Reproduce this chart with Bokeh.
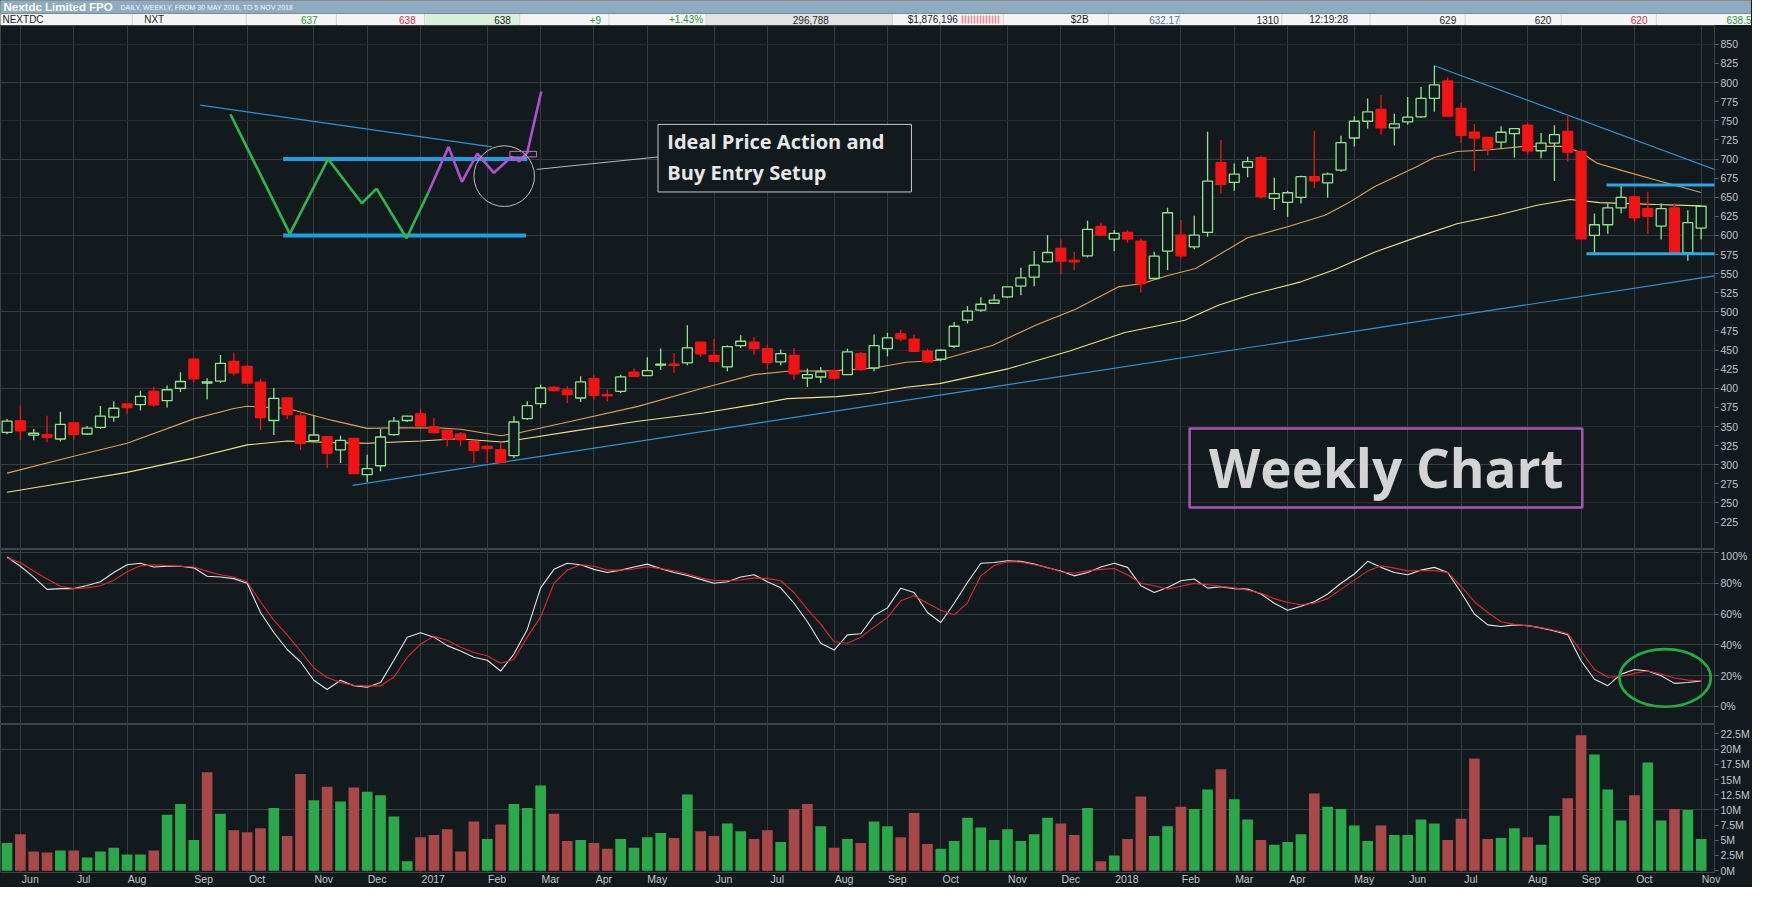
import pandas as pd
from bokeh.plotting import figure
from bokeh.layouts import column
from bokeh.models import Range1d, FixedTicker, Grid, ColumnDataSource
from bokeh.core.properties import value
from bokeh.embed import file_html
from bokeh.resources import INLINE

# ------------------------------------------------------------------ data
start_date = "2016-05-30"
n_weeks = 128

opens = [342.4, 357.5, 338.8, 339.4, 333.7, 354.9, 340.2, 348.9, 362.3, 379.5,
         378.7, 396.0, 383.9, 399.9, 438.3, 406.8, 409.4, 435.3, 428.8, 408.0,
         357.9, 387.3, 364.0, 331.6, 336.8, 319.5, 334.6, 287.0, 298.7, 339.4,
         357.9, 366.6, 349.7, 345.4, 340.2, 330.6, 324.0, 319.6, 311.8, 360.3,
         379.9, 401.3, 397.8, 387.3, 412.7, 391.7, 396.0, 421.0, 416.6, 430.5,
         431.5, 433.2, 460.3, 443.2, 428.0, 455.9, 460.3, 452.0, 434.5, 443.2,
         413.5, 414.8, 422.3, 417.9, 445.4, 426.6, 452.0, 471.2, 464.2, 448.5,
         438.0, 455.0, 489.1, 502.2, 511.3, 519.6, 533.6, 545.4, 565.5, 583.0,
         567.3, 573.4, 611.8, 595.2, 603.9, 592.6, 543.7, 579.5, 600.4, 585.1,
         603.9, 695.2, 669.4, 689.1, 701.7, 648.5, 643.2, 649.8, 676.9, 668.9,
         685.6, 727.5, 749.4, 764.8, 740.7, 748.6, 755.2, 779.3, 802.2, 766.2,
         735.0, 728.3, 722.2, 733.2, 744.2, 710.8, 720.9, 736.3, 709.9, 600.0,
         614.0, 636.0, 650.5, 635.1, 612.3, 636.0, 577.1, 609.6]
highs = [359.7, 377.8, 346.7, 364.0, 369.2, 355.0, 350.6, 377.0, 383.0, 380.0,
         396.8, 402.5, 403.8, 421.0, 439.0, 413.3, 443.5, 447.0, 430.5, 412.4,
         400.3, 387.5, 370.0, 364.0, 337.0, 338.0, 335.0, 313.0, 346.7, 362.3,
         364.0, 373.5, 361.4, 345.5, 342.8, 331.0, 325.3, 328.4, 363.3, 383.0,
         404.8, 402.6, 402.6, 415.7, 417.0, 398.3, 417.9, 425.8, 440.6, 452.0,
         446.3, 482.5, 460.5, 465.0, 456.3, 469.4, 466.8, 457.2, 450.7, 452.8,
         425.8, 427.5, 424.5, 452.0, 447.6, 470.3, 472.5, 476.9, 470.3, 452.0,
         451.0, 486.9, 507.4, 519.2, 523.1, 533.0, 557.6, 579.5, 600.4, 595.2,
         578.6, 619.2, 616.6, 607.0, 607.0, 596.1, 578.6, 636.2, 620.1, 625.8,
         735.8, 724.9, 694.3, 703.1, 704.4, 675.5, 658.5, 678.2, 737.1, 682.5,
         730.6, 756.0, 779.3, 783.7, 759.1, 781.1, 794.3, 822.0, 806.6, 773.6,
         745.9, 728.5, 742.8, 740.0, 747.2, 734.1, 744.2, 757.4, 710.0, 628.6,
         641.7, 665.9, 651.0, 657.1, 641.7, 641.7, 633.0, 638.5]
lows = [339.8, 332.4, 332.0, 329.4, 330.3, 332.9, 339.0, 346.7, 356.2, 366.6,
        370.9, 375.7, 374.8, 395.1, 408.0, 385.2, 406.8, 416.7, 405.9, 345.4,
        338.9, 359.7, 319.5, 330.3, 295.7, 302.2, 288.0, 277.5, 291.4, 338.0,
        356.0, 349.7, 341.0, 323.8, 324.0, 302.0, 302.0, 302.0, 308.7, 359.0,
        374.2, 396.0, 380.8, 382.1, 385.1, 383.0, 393.9, 415.0, 416.0, 424.0,
        420.1, 430.1, 441.0, 435.0, 422.3, 452.8, 444.1, 425.8, 430.1, 411.3,
        401.7, 407.0, 412.6, 417.9, 423.1, 422.3, 441.9, 461.6, 447.6, 433.6,
        435.4, 452.8, 484.7, 500.0, 510.9, 518.3, 521.8, 533.6, 564.6, 548.9,
        554.6, 571.2, 599.1, 579.5, 590.4, 525.3, 542.8, 554.6, 569.9, 582.1,
        598.3, 655.0, 658.5, 676.0, 648.5, 633.2, 624.5, 641.9, 661.6, 649.3,
        683.4, 716.5, 739.8, 731.9, 717.8, 745.0, 753.8, 761.8, 756.0, 720.9,
        684.4, 704.6, 713.4, 702.0, 705.5, 701.1, 671.2, 696.7, 595.0, 576.7,
        602.2, 628.6, 618.4, 602.2, 594.7, 577.0, 567.0, 594.7]
closes = [357.1, 344.5, 341.2, 335.9, 352.7, 339.8, 348.0, 363.6, 373.9, 374.8,
          389.5, 378.2, 398.1, 408.9, 412.4, 408.5, 432.7, 420.2, 406.8, 361.8,
          386.9, 365.7, 328.1, 338.9, 315.2, 332.0, 288.4, 294.8, 336.3, 357.1,
          363.6, 351.0, 341.9, 333.7, 333.0, 318.8, 321.0, 303.0, 355.9, 377.3,
          400.4, 396.9, 391.7, 408.3, 390.8, 390.0, 415.0, 415.7, 423.1, 431.5,
          430.0, 452.8, 445.0, 435.4, 454.6, 461.6, 452.0, 434.1, 445.4, 418.8,
          417.9, 421.4, 413.5, 447.6, 424.4, 455.9, 465.9, 464.6, 448.5, 434.5,
          449.8, 481.2, 500.9, 510.0, 515.3, 532.7, 544.5, 561.1, 577.7, 566.4,
          565.5, 607.9, 600.4, 602.6, 595.2, 537.1, 572.9, 629.7, 573.4, 600.4,
          671.2, 666.8, 680.3, 696.5, 650.7, 654.6, 655.9, 676.9, 671.6, 680.3,
          721.4, 749.4, 761.8, 740.7, 745.9, 754.7, 779.3, 796.9, 756.0, 731.0,
          727.5, 714.3, 735.0, 739.8, 710.8, 720.9, 731.9, 709.0, 595.6, 614.0,
          636.0, 649.7, 623.3, 625.0, 635.1, 578.0, 616.7, 638.2]
volume_m = [4.57, 6.0, 3.14, 2.98, 3.3, 3.3, 2.18, 3.14, 3.78, 2.66,
            2.66, 3.3, 9.2, 10.96, 5.05, 16.2, 9.36, 6.65, 6.33, 6.97,
            10.3, 5.7, 15.9, 11.6, 13.8, 11.4, 13.7, 13.0, 12.4, 8.9,
            1.54, 5.5, 5.85, 6.8, 3.14, 8.1, 5.2, 7.6, 10.96, 10.3,
            14.0, 9.36, 4.9, 5.05, 4.57, 3.6, 5.2, 3.78, 5.5, 6.2,
            5.37, 12.55, 6.5, 5.7, 7.77, 6.5, 5.2, 6.65, 4.73, 10.16,
            10.96, 7.3, 3.78, 5.2, 4.57, 8.1, 7.3, 5.5, 9.5, 4.4,
            3.6, 4.9, 8.7, 7.1, 5.05, 6.8, 4.9, 6.0, 8.7, 7.77,
            5.85, 10.3, 1.54, 2.5, 5.2, 12.2, 5.7, 7.3, 10.5, 10.16,
            13.35, 16.7, 11.75, 8.4, 5.05, 4.26, 4.73, 6.0, 12.7, 10.5,
            10.16, 7.45, 4.9, 7.45, 5.85, 5.85, 8.4, 7.77, 5.05, 8.56,
            18.46, 5.2, 5.37, 6.97, 5.5, 4.26, 9.04, 11.9, 22.3, 19.1,
            13.35, 8.24, 12.4, 17.8, 8.24, 10.16, 10.0, 5.2]

# moving averages (bar index, price)
ma_fast_x = [0, 5, 9, 14, 17, 18, 21, 24.4, 27, 29.4, 32.5, 34, 37, 38.3, 42.3, 47.3,
             52.2, 56, 58.5, 62.2, 65, 67.4, 69.9, 73.9, 77.1, 80.1, 83.3, 85.1, 87.1,
             89.1, 93, 96, 98.8, 100.5, 102.5, 105.7, 107, 108.7, 111.2, 113.7, 116.7,
             118, 119.2, 121.1, 123.6, 127]
ma_fast_y = [289, 311, 328, 360, 373.5, 376.5, 373.5, 358, 347.6, 348.4, 348, 346.5, 338,
             341.5, 356.8, 376.4, 400.4, 417.9, 422.3, 423.1, 426.5, 434, 436.7, 456.3,
             482.5, 503.5, 532.7, 537.1, 548, 556.8, 596.9, 611.3, 626.5, 642, 663.7,
             690.1, 702, 709.9, 712.1, 716.5, 716.5, 708.6, 694.5, 684.8, 672.5, 656.3]
ma_slow_x = [0, 5, 9, 14, 18, 21, 24.4, 27, 31, 33.8, 37.1, 38.3, 42.3, 47.3, 52.2, 56,
             58.5, 62.2, 64.9, 67.4, 69.9, 75.1, 79.6, 83.8, 88.3, 90.8, 93.3, 97, 99.5,
             102.5, 105.7, 108.7, 111.7, 114.7, 117.2, 119.4, 123.6, 127]
ma_slow_y = [264, 278.4, 290, 308.7, 326, 331.1, 329, 328.1, 331.1, 334, 329.7, 332.7,
             343.7, 356.8, 367.7, 378.6, 386.5, 389.1, 393.9, 401.3, 406.1, 425.8, 448.5,
             473, 489.1, 508.7, 522.7, 539.3, 555, 578, 597.8, 615.4, 626.4, 639.5, 647,
             643, 640.4, 638.7]

stoch_k = [97, 91, 84, 76, 76.5, 76.5, 78.5, 81, 87, 92,
           93, 90.5, 91, 91, 90, 84.5, 84, 83, 80, 61,
           48, 37, 29, 17, 11, 17, 13.5, 12.5, 15.5, 30,
           45, 47.8, 45, 39.5, 36, 32, 30, 23, 34, 50,
           77, 89, 93, 92, 89, 87, 88.5, 90.5, 92.4, 89.5,
           87, 85, 82.5, 80, 81, 84, 85.5, 81, 77, 67,
           55, 41, 36.6, 46.5, 47.2, 59, 64, 76.8, 74, 61,
           54.5, 67, 80.5, 93, 93.5, 94.6, 94.2, 92.5, 90, 88,
           84.8, 87, 90.5, 93, 90.3, 78.4, 74, 77.3, 81.6, 82.7,
           76.8, 77.7, 76.5, 76.2, 73, 67, 62.5, 65, 68, 73,
           80, 86, 94.2, 90.3, 87, 85.5, 88.5, 90.3, 87, 74,
           60, 53, 51.9, 53, 52.5, 51, 49, 46.5, 29.7, 17.7,
           13.5, 21, 24, 23, 20, 15, 15.6, 16.5]
stoch_d = [96.3, 93.5, 88, 82.7, 78, 76.5, 77, 78.4, 82, 87.5,
           91.3, 92, 91.5, 91, 90.5, 87.7, 85.5, 84, 81, 68,
           56, 46.5, 36, 25, 18.8, 15.5, 13.8, 13.4, 13.4, 19,
           32, 40.5, 45.5, 43, 38.5, 35, 32.9, 28, 30.5, 45,
           58, 80, 88.5, 92, 91, 88.5, 88.5, 89.2, 90.7, 89.5,
           88.1, 86, 83.5, 81.8, 81.8, 82.1, 83.5, 83, 81.6, 74,
           63, 53.5, 42, 41, 45, 51.5, 57.8, 68.6, 71.9, 67,
           62.5, 59.5, 67.3, 84.8, 91.5, 94, 93.7, 92, 90.3, 87.5,
           86.5, 88, 89, 89.6, 85.5, 80, 78.4, 76.2, 78, 79.9,
           79, 78, 77, 75.5, 73.5, 70, 67.5, 66, 67, 70,
           76, 82, 88, 91.3, 89.8, 88, 88.3, 88.2, 87, 78,
           68, 61, 55, 53.3, 52.3, 51.3, 49.5, 47.4, 36, 24,
           19, 19.5, 21.5, 23, 21, 18.5, 17.1, 16.7]

month_labels = ["Jun", "Jul", "Aug", "Sep", "Oct", "Nov", "Dec",
                "2017", "Feb", "Mar", "Apr", "May", "Jun", "Jul", "Aug", "Sep", "Oct", "Nov", "Dec",
                "2018", "Feb", "Mar", "Apr", "May", "Jun", "Jul", "Aug", "Sep", "Oct", "Nov"]
price_ticks = [225, 250, 275, 300, 325, 350, 375, 400, 425, 450, 475, 500, 525, 550,
               575, 600, 625, 650, 675, 700, 725, 750, 775, 800, 825, 850]
price_grid_major = [300, 400, 500, 600, 700, 800]
price_grid_minor = [250, 350, 450, 550, 650, 750, 850]
stoch_ticks = [0, 20, 40, 60, 80, 100]
stoch_tick_labels = ["0%", "20%", "40%", "60%", "80%", "100%"]
volume_ticks = [0, 2.5, 5, 7.5, 10, 12.5, 15, 17.5, 20, 22.5]
volume_tick_labels = ["0M", "2.5M", "5M", "7.5M", "10M", "12.5M", "15M", "17.5M", "20M", "22.5M"]
volume_grid = [10, 20]

# drawn annotations (bar index, price)
lower_trend_x, lower_trend_y = [25.9, 128.0], [273, 547]
upper_trend_x, upper_trend_y = [107, 128.5], [822, 683]
resistance_x, resistance_y = [119.9, 128.5], [666, 666]
support_x, support_y = [118.4, 128.5], [576, 576]
inset_trend_x, inset_trend_y = [14.48, 36.34], [770.4, 715.9]
inset_res_x, inset_res_y = [20.7, 39.0], [700, 700]
inset_sup_x, inset_sup_y = [20.7, 38.9], [600, 600]
inset_green_x = [16.75, 21.2, 24.07, 26.6, 27.7, 29.95, 31.6]
inset_green_y = [758.6, 602, 700, 642.1, 661.3, 596.4, 656.9]
inset_purple_x = [31.6, 33.1, 34.1, 35.25, 36.5, 37.8, 38.4, 39.0, 40.05]
inset_purple_y = [656.9, 715.9, 670.2, 707.1, 682, 702.7, 696.8, 708.6, 788.3]
callout_lines = ["Ideal Price Action and", "Buy Entry Setup"]
weekly_label = "Weekly Chart"

# header strip
title_text = "Nextdc Limited FPO"
subtitle_text = "DAILY, WEEKLY, FROM 30 MAY 2016, TO 5 NOV 2018"
hdr_left = [("NEXTDC", 2, "#1e1e1e"), ("NXT", 145, "#1e1e1e")]
hdr_right = [("637", 320, "#2f9a3a"), ("638", 419, "#c23a3a"), ("638", 515, "#1e1e1e"),
             ("+9", 606, "#2f9a3a"), ("+1.43%", 709, "#2f9a3a"), ("296,788", 836, "#1e1e1e"),
             ("$1,876,196", 966, "#1e1e1e"), ("$2B", 1098, "#1e1e1e"), ("632.17", 1190, "#56748c"),
             ("1310", 1290, "#1e1e1e"), ("12:19:28", 1360, "#1e1e1e"), ("629", 1469, "#1e1e1e"),
             ("620", 1565, "#1e1e1e"), ("620", 1662, "#c23a3a"), ("638.5", 1767, "#2f9a3a")]
hdr_seps = [133, 248, 339, 428, 524, 614, 712, 900, 1012, 1118, 1190, 1293, 1382, 1478, 1575, 1671]

# ------------------------------------------------------------------ styling
BG = "#121a1d"
V_GRID = "#333c40"
H_MAJOR = "#353e42"
H_MINOR = "#232b2f"
PANEL_LINE = "#3d474b"
AXIS_TEXT = "#c2c6c8"
FONT = "Liberation Sans"
FRAME_W = 1714
RIGHT_W = 37
X_START, X_END = -0.49, 128.0
PX_PER_BAR = FRAME_W / (X_END - X_START)

idx = list(range(n_weeks))
dates = pd.date_range(start_date, periods=n_weeks, freq="7D")
month_idx = [i for i in range(1, n_weeks) if dates[i].month != dates[i - 1].month]
label_pos = [round(g + (1.5 + 5.6 * len(l) / 2) / PX_PER_BAR, 4) for g, l in zip(month_idx, month_labels)]

up = [c >= o for o, c in zip(opens, closes)]
vol_up = [True] + [closes[i] >= closes[i - 1] for i in range(1, n_weeks)]

xr = Range1d(X_START, X_END)


def panel(frame_h, y0, y1, x_axis=False, bottom=0):
    p = figure(frame_width=FRAME_W, frame_height=frame_h, x_range=xr, y_range=Range1d(y0, y1),
               x_axis_location="below" if x_axis else None, y_axis_location="right",
               output_backend="svg", toolbar_location=None,
               min_border_left=0, min_border_top=0, min_border_bottom=bottom,
               min_border_right=RIGHT_W)
    p.background_fill_color = BG
    p.border_fill_color = BG
    p.outline_line_color = PANEL_LINE
    p.xgrid.visible = False
    p.ygrid.visible = False
    ax = p.yaxis[0]
    ax.axis_line_color = None
    ax.major_tick_line_color = "#5b6468"
    ax.major_tick_out = 4
    ax.major_tick_in = 0
    ax.minor_tick_line_color = None
    ax.major_label_text_color = AXIS_TEXT
    ax.major_label_text_font = FONT
    ax.major_label_text_font_size = "10.5px"
    ax.major_label_standoff = 2
    p.add_layout(Grid(dimension=0, ticker=FixedTicker(ticks=month_idx), grid_line_color=V_GRID))
    return p


# ------------------------------------------------------------------ header
HDR_H = 25
hdr = figure(frame_width=FRAME_W + RIGHT_W, frame_height=HDR_H, x_range=Range1d(0, 1767),
             y_range=Range1d(HDR_H, 0), x_axis_location=None, y_axis_location=None,
             output_backend="svg", toolbar_location=None, min_border=0)
hdr.outline_line_color = None
hdr.background_fill_color = "#f3f3f3"
hdr.border_fill_color = "#f3f3f3"
hdr.grid.visible = False
hdr.quad(left=0, right=1767, top=0, bottom=13, fill_color="#8eabc0", line_color=None)
hdr.quad(left=0, right=1767, top=13, bottom=HDR_H, fill_color="#f4f4f4", line_color=None)
hdr.quad(left=429, right=524, top=13.5, bottom=HDR_H, fill_color="#d7f0d7", line_color=None)
hdr.quad(left=712, right=900, top=13.5, bottom=HDR_H, fill_color="#e3e3e3", line_color=None)
hdr.quad(left=969, right=1009, top=15, bottom=23, fill_color="#f8d3d8", line_color=None,
         hatch_pattern="vertical_line", hatch_color="#e7909c", hatch_scale=3)
hdr.segment(x0=hdr_seps, x1=hdr_seps, y0=[13] * len(hdr_seps), y1=[HDR_H] * len(hdr_seps),
            line_color="#d4d4d4", line_width=1)
hdr.segment(x0=[0], x1=[1767], y0=[13], y1=[13], line_color="#6f8ea4", line_width=1)
hdr.text(x=[3], y=[6.8], text=[title_text], text_font=value(FONT), text_font_style="bold",
         text_font_size="11.5px", text_color="#ffffff", text_baseline="middle")
hdr.text(x=[121], y=[7.3], text=[subtitle_text], text_font=value(FONT),
         text_font_size="7px", text_color="#f2f6f9", text_baseline="middle")
hdr.text(x=[t[1] for t in hdr_left], y=[19.2] * len(hdr_left), text=[t[0] for t in hdr_left],
         text_color=[t[2] for t in hdr_left], text_font=value(FONT), text_font_size="10px",
         text_baseline="middle", text_align="left")
hdr.text(x=[t[1] for t in hdr_right], y=[19.2] * len(hdr_right), text=[t[0] for t in hdr_right],
         text_color=[t[2] for t in hdr_right], text_font=value(FONT), text_font_size="10px",
         text_baseline="middle", text_align="right")

# ------------------------------------------------------------------ price panel
p1 = panel(524, 189.1, 874.7)
p1.yaxis[0].ticker = FixedTicker(ticks=price_ticks)
p1.add_layout(Grid(dimension=1, ticker=FixedTicker(ticks=price_grid_minor), grid_line_color=H_MINOR))
p1.add_layout(Grid(dimension=1, ticker=FixedTicker(ticks=price_grid_major), grid_line_color=H_MAJOR))

csrc = ColumnDataSource(dict(
    x=idx, o=opens, h=highs, l=lows, c=closes,
    top=[max(o, c) for o, c in zip(opens, closes)],
    bot=[min(o, c) for o, c in zip(opens, closes)],
    wick=["#8fe58f" if u else "#f01414" for u in up],
    fill=[BG if u else "#f01414" for u in up],
))
p1.line(ma_slow_x, ma_slow_y, line_color="#f2df8c", line_width=1.1)
p1.line(ma_fast_x, ma_fast_y, line_color="#dca25c", line_width=1.1)
p1.line(lower_trend_x, lower_trend_y, line_color="#2f93d8", line_width=1.2)
p1.line(upper_trend_x, upper_trend_y, line_color="#2f93d8", line_width=1.2)
p1.segment(x0="x", y0="l", x1="x", y1="h", line_color="wick", line_width=1.3, source=csrc)
p1.vbar(x="x", top="top", bottom="bot", width=0.74, fill_color="fill", line_color="wick",
        line_width=1.3, source=csrc)
p1.line(resistance_x, resistance_y, line_color="#2aa6ea", line_width=3)
p1.line(support_x, support_y, line_color="#2aa6ea", line_width=3)

# inset sketch
p1.line(inset_trend_x, inset_trend_y, line_color="#2f93d8", line_width=1.2)
p1.line(inset_res_x, inset_res_y, line_color="#1d9fe6", line_width=4)
p1.line(inset_sup_x, inset_sup_y, line_color="#1d9fe6", line_width=4)
p1.line(inset_green_x, inset_green_y, line_color="#2cb84c", line_width=2.6)
p1.line(inset_purple_x, inset_purple_y, line_color="#b04fcf", line_width=2.6)
p1.ellipse(x=[37.27], y=[677.6], width=[4.54], height=[79.5], fill_color=None,
           line_color="#bdbdbd", line_width=1)
p1.quad(left=[37.7], right=[39.7], bottom=[702.7], top=[710], fill_color=None,
        line_color="#c070c8", line_width=1)
p1.line([39.7, 48.8], [686.4, 702.7], line_color="#b8b8b8", line_width=1)
p1.quad(left=[48.8], right=[67.8], bottom=[656.9], top=[745.3], fill_color=BG,
        line_color="#c8c8c8", line_width=1)
p1.text(x=[49.5, 49.5], y=[723.2, 682.0], text=callout_lines, text_font=value("Open Sans"),
        text_font_style="bold", text_font_size="20px", text_color="#e8e8e8",
        text_baseline="middle", text_align="left")

# weekly label
p1.quad(left=[88.65], right=[118.09], bottom=[244.1], top=[347.3], fill_color=None,
        line_color="#a856b8", line_width=2.5)
p1.text(x=[103.4], y=[297.0], text=[weekly_label], text_font=value("Open Sans"),
        text_font_style="bold", text_font_size="53px", text_color="#d4d4d4",
        text_baseline="middle", text_align="center")

# ------------------------------------------------------------------ stochastic panel
p2 = panel(175, -11.7, 101.9)
p2.yaxis[0].ticker = FixedTicker(ticks=stoch_ticks)
p2.yaxis[0].major_label_overrides = {t: l for t, l in zip(stoch_ticks, stoch_tick_labels)}
p2.add_layout(Grid(dimension=1, ticker=FixedTicker(ticks=stoch_ticks), grid_line_color=H_MAJOR))
p2.line(idx, stoch_k, line_color="#e4e4e4", line_width=1.1)
p2.line(idx, stoch_d, line_color="#e32630", line_width=1.1)
p2.ellipse(x=[124.3], y=[18.5], width=[6.84], height=[37.4], fill_color=None,
           line_color="#22ad42", line_width=2.6)

# ------------------------------------------------------------------ volume panel
p3 = panel(148, -0.3, 24.05, x_axis=True, bottom=13)
p3.yaxis[0].ticker = FixedTicker(ticks=volume_ticks)
p3.yaxis[0].major_label_overrides = {t: l for t, l in zip(volume_ticks, volume_tick_labels)}
p3.add_layout(Grid(dimension=1, ticker=FixedTicker(ticks=volume_grid), grid_line_color=H_MAJOR))
vsrc = ColumnDataSource(dict(x=idx, v=volume_m,
                             col=["#2aa84a" if u else "#a84848" for u in vol_up]))
p3.vbar(x="x", top="v", bottom=0, width=0.8, fill_color="col", line_color=None, source=vsrc)
xa = p3.xaxis[0]
xa.ticker = FixedTicker(ticks=label_pos)
xa.major_label_overrides = {t: l for t, l in zip(label_pos, month_labels)}
xa.axis_line_color = None
xa.major_tick_line_color = None
xa.minor_tick_line_color = None
xa.major_tick_out = 0
xa.major_tick_in = 0
xa.major_label_standoff = 0
xa.major_label_text_color = AXIS_TEXT
xa.major_label_text_font = FONT
xa.major_label_text_font_size = "10.5px"

layout = column(hdr, p1, p2, p3, spacing=0)
layout.styles = {"background-color": BG}
open("out.html", "w").write(file_html(layout, INLINE))
